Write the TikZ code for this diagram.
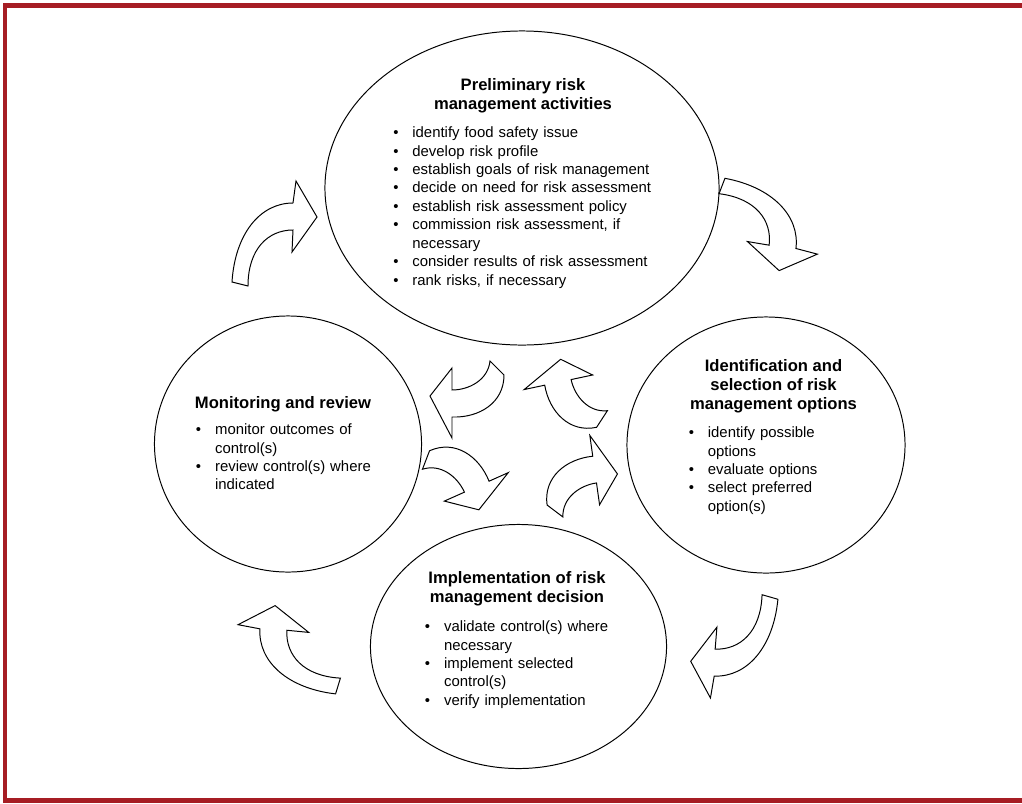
\documentclass[tikz,border=0pt]{standalone}
\usepackage{fontspec}
\setmainfont{Liberation Sans}
\usetikzlibrary{shapes.geometric}

\definecolor{borderred}{RGB}{166,29,36}
\newcommand{\riskitem}{\par\hangindent=13.6pt\hangafter=1\noindent\makebox[13.6pt][l]{\textbullet}}

\tikzset{
  phase/.style={draw=black, line width=0.7pt, ellipse, inner sep=0pt},
  heading/.style={font=\fontsize{11.8}{13.6}\selectfont\bfseries, align=center, inner sep=0pt, anchor=north},
  bullets/.style={font=\fontsize{10.6}{13.1}\selectfont, text width=7cm, align=left, inner sep=0pt, anchor=north west},
  turnbox/.style={draw=black, fill=white, line width=0.7pt},
  % long curved arrow, tail middle at (0,0)
  bigturn/.pic={
    \draw[turnbox] (-8,-2) .. controls (-5,-50) and (20,-81) .. (53,-81) -- (56,-103) -- (77,-67)
      -- (52,-32) -- (53,-54) .. controls (28,-54) and (8,-35) .. (8,2) -- cycle;
  },
  % short curved arrow, tail middle at (0,0)
  smallturn/.pic={
    \draw[turnbox] (7,7) .. controls (7,35) and (-18,50) .. (-45,49) -- (-45,70) -- (-67,28)
      -- (-45,0) -- (-45,22) .. controls (-28,22) and (-9,12) .. (-7,-7) -- cycle;
  }
}

\begin{document}
\begin{tikzpicture}[x=0.025cm, y=-0.025cm]
\useasboundingbox (0,0) rectangle (1022,804);

% frame
\draw[borderred, line width=3.5pt] (1040,5.5) -- (5,5.5) -- (5,800.5) -- (1040,800.5);

% the four phases
\node[phase, minimum width=9.85cm, minimum height=7.85cm] (prelim) at (522,188) {};
\node[phase, minimum width=6.95cm, minimum height=6.4cm] (options) at (766,445) {};
\node[phase, minimum width=6.675cm, minimum height=6.4cm] (monitor) at (288,444) {};
\node[phase, minimum width=7.4cm, minimum height=6.1cm] (implement) at (518.5,646.5) {};

\node[heading] (prelimtitle) at (523,78) {Preliminary risk\\management activities};
\node[bullets] (prelimlist) at (393,119) {%
\riskitem identify food safety issue
\riskitem develop risk profile
\riskitem establish goals of risk management
\riskitem decide on need for risk assessment
\riskitem establish risk assessment policy
\riskitem commission risk assessment, if\newline necessary
\riskitem consider results of risk assessment
\riskitem rank risks, if necessary\par};

\node[heading] (optionstitle) at (773.5,359) {Identification and\\selection of risk\\management options};
\node[bullets] (optionslist) at (688.5,419) {%
\riskitem identify possible\newline options
\riskitem evaluate options
\riskitem select preferred\newline option(s)\par};

\node[heading] (monitortitle) at (283,396) {Monitoring and review};
\node[bullets] (monitorlist) at (195.7,416) {%
\riskitem monitor outcomes of\newline control(s)
\riskitem review control(s) where\newline indicated\par};

\node[heading] (implementtitle) at (517,571) {Implementation of risk\\management decision};
\node[bullets] (implementlist) at (424.7,613) {%
\riskitem validate control(s) where\newline necessary
\riskitem implement selected\newline control(s)
\riskitem verify implementation\par};

% outer cycle
\pic[rotate=0] at (240,284) {bigturn};
\pic[rotate=-97] at (722,186) {bigturn};
\pic[rotate=178] at (770,597) {bigturn};
\pic[rotate=87] at (338,686) {bigturn};

% inner cycle
\pic[rotate=0] at (497,368) {smallturn};
\pic[rotate=-78] at (602,419) {smallturn};
\pic[rotate=114] at (426,460) {smallturn};
\pic[rotate=-172] at (555,511) {smallturn};
\end{tikzpicture}
\end{document}
